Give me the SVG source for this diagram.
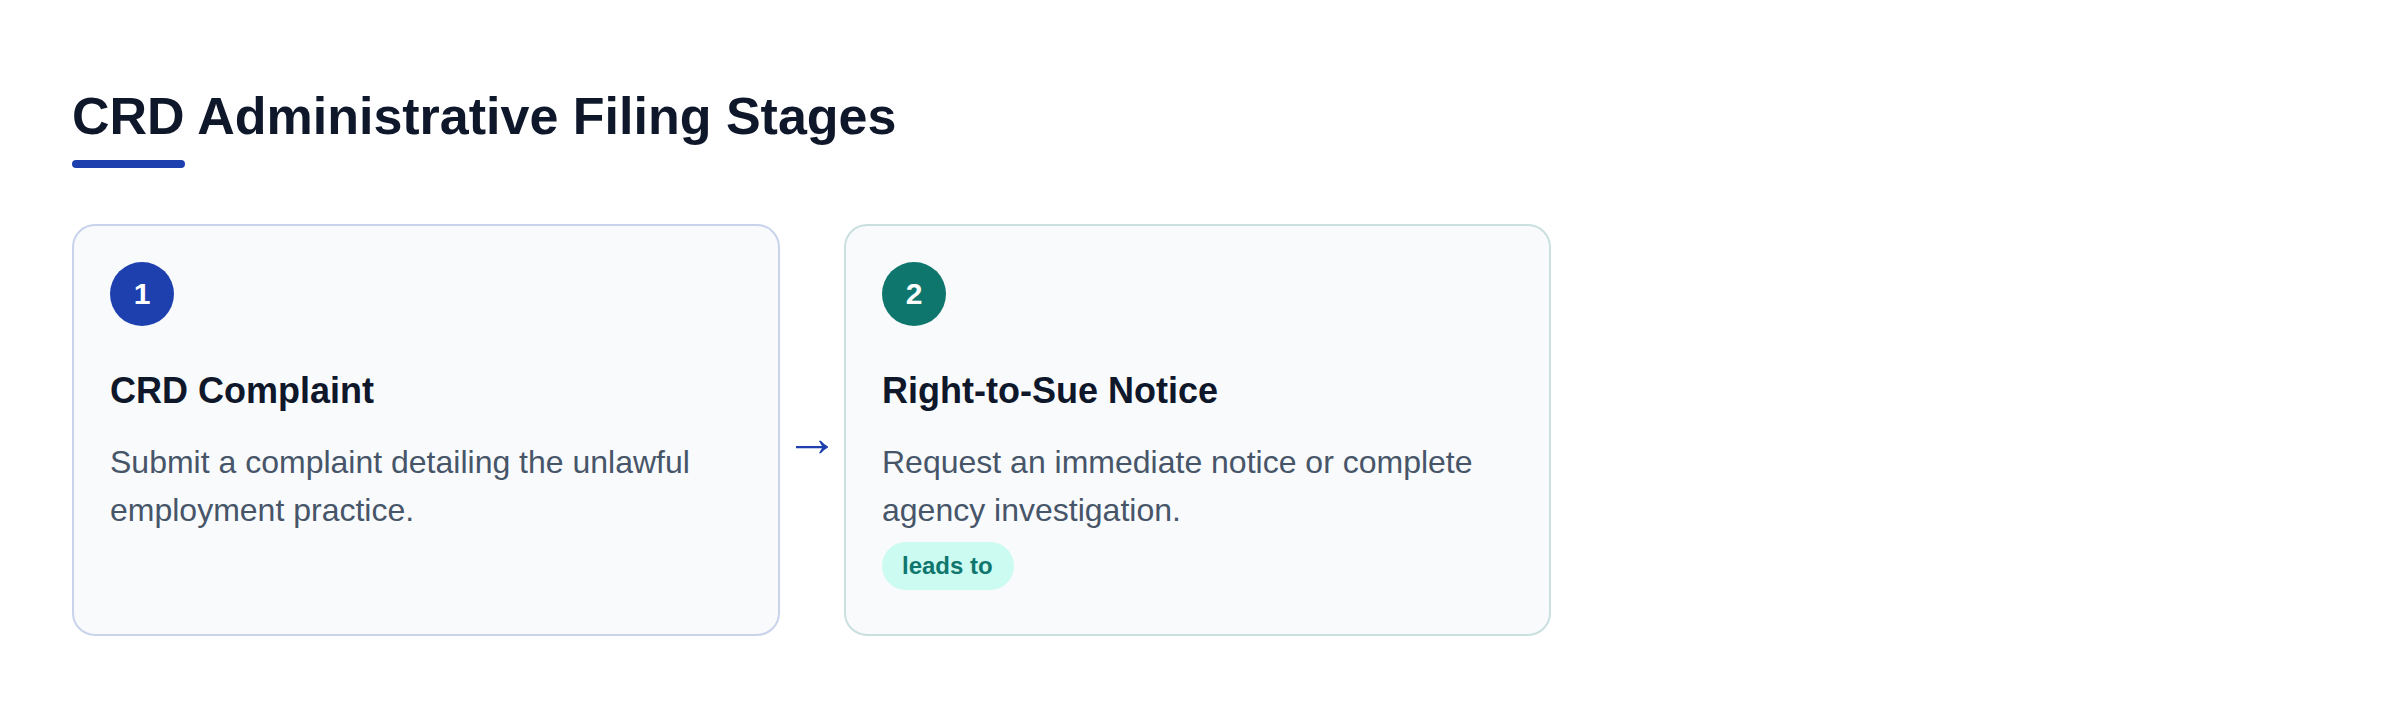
<svg xmlns="http://www.w3.org/2000/svg" width="2400" height="708" viewBox="0 0 2400 708">
<style>
.card{fill:#f8fafc;stroke-width:2}
.num{font-family:"Liberation Sans",Arial,sans-serif;font-weight:700;font-size:30px;fill:#ffffff;text-anchor:middle}
.h{font-family:"Liberation Sans",Arial,sans-serif;font-weight:700;font-size:36px;fill:#0f172a}
.d{font-family:"Liberation Sans",Arial,sans-serif;font-size:32px;fill:#475569}
</style>
<rect width="2400" height="708" fill="#ffffff"/>
<g id="title">
<text x="72" y="134" font-family="Liberation Sans, Arial, sans-serif" font-weight="700" font-size="52" fill="#0f172a">CRD Administrative Filing Stages</text>
<rect x="72" y="160" width="113" height="8" rx="4" fill="#1e40af"/>
</g>
<g id="connectors">
<text x="812" y="456" font-family="Liberation Sans, Arial, sans-serif" font-size="54" fill="#1e40af" text-anchor="middle">→</text>
</g>
<g id="stage1">
<rect class="card" x="73" y="225" width="706" height="410" rx="22" stroke="#c9d3ec"/>
<circle cx="142" cy="294" r="32" fill="#1e40af"/>
<text class="num" x="142" y="304">1</text>
<text class="h" x="110" y="403">CRD Complaint</text>
<text class="d" x="110" y="473">Submit a complaint detailing the unlawful</text>
<text class="d" x="110" y="521">employment practice.</text>
</g>
<g id="stage2">
<rect class="card" x="845" y="225" width="705" height="410" rx="22" stroke="#c9e0df"/>
<circle cx="914" cy="294" r="32" fill="#0f766e"/>
<text class="num" x="914" y="304">2</text>
<text class="h" x="882" y="403">Right-to-Sue Notice</text>
<text class="d" x="882" y="473">Request an immediate notice or complete</text>
<text class="d" x="882" y="521">agency investigation.</text>
<rect x="882" y="542" width="132" height="48" rx="24" fill="#ccfbf1"/>
<text x="902" y="574" font-family="Liberation Sans, Arial, sans-serif" font-weight="700" font-size="24" fill="#0f766e">leads to</text>
</g>
</svg>
